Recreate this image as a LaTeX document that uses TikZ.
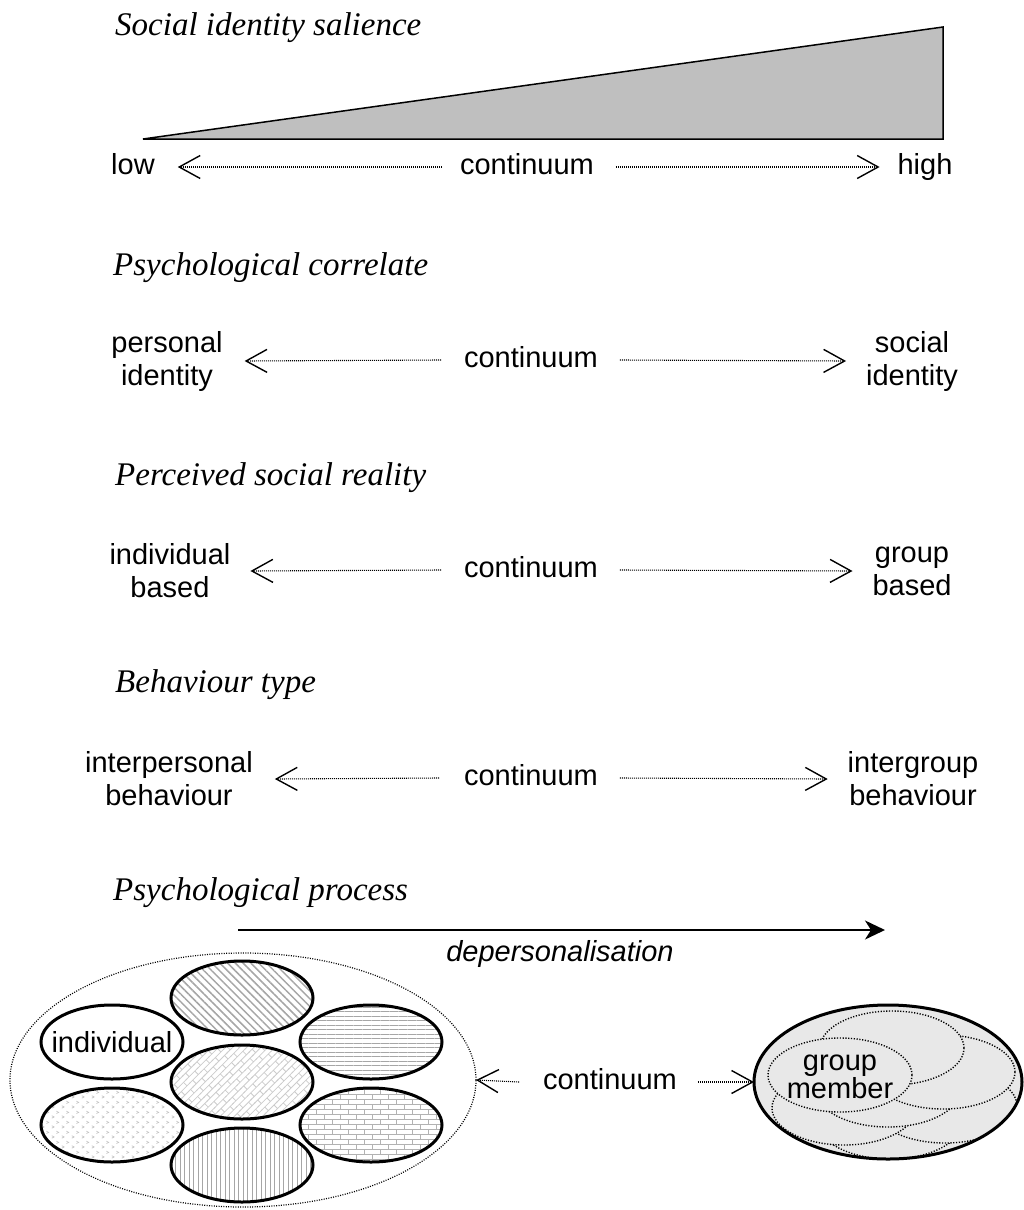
\documentclass[tikz,border=0pt]{standalone}
\usepackage{fontspec}
\setmainfont{Liberation Serif}
\newfontfamily\arial{Liberation Sans}
\usetikzlibrary{arrows.meta,patterns,patterns.meta,shapes.geometric}
\tikzdeclarepattern{
  name=mybricks, type=uncolored,
  bounding box={(-1pt,-1pt) and (17pt,11pt)},
  tile size={(16pt,10pt)},
  code={
    \draw[line width=0.9pt] (-1pt,0.5pt) -- (17pt,0.5pt) (-1pt,5.5pt) -- (17pt,5.5pt)
      (4pt,0.5pt) -- (4pt,5.5pt) (12pt,5.5pt) -- (12pt,10.5pt);
  }
}
\tikzdeclarepattern{
  name=mydiagbricks, type=uncolored,
  bounding box={(-1pt,-1pt) and (17pt,11pt)},
  tile size={(16pt,10pt)},
  tile transformation={rotate=45},
  code={
    \draw[line width=0.8pt] (-1pt,0.5pt) -- (17pt,0.5pt) (-1pt,5.5pt) -- (17pt,5.5pt)
      (4pt,0.5pt) -- (4pt,5.5pt) (12pt,5.5pt) -- (12pt,10.5pt);
  }
}
\tikzdeclarepattern{
  name=mychevrons, type=uncolored,
  bounding box={(0pt,0pt) and (10pt,10pt)},
  tile size={(10pt,10pt)},
  code={
    \draw[line width=0.7pt] (2pt,2pt) -- (4.5pt,3.3pt) -- (2pt,4.6pt)
      (7pt,7pt) -- (9.5pt,8.3pt) -- (7pt,9.6pt);
  }
}
\begin{document}
\begin{tikzpicture}[x=1pt,y=-1pt,
  title/.style={font=\fontsize{33}{38}\selectfont\itshape, anchor=base west, inner sep=0pt},
  lbl/.style={font=\arial\fontsize{29}{33}\selectfont, align=center, inner sep=0pt, outer sep=0pt},
  lblone/.style={lbl, text height=15pt, text depth=0pt},
  cont/.style={dash pattern=on 1pt off 1pt, line width=1.1pt,
    -{Straight Barb[length=21pt,width=23pt,line width=1.4pt]}},
  person/.style={ellipse, draw, line width=3pt, minimum width=142pt, minimum height=74pt, inner sep=0pt, outer sep=0pt},
  dotline/.style={dash pattern=on 1.2pt off 1.6pt, line width=1.4pt},
  pc/.style={pattern color=gray!70}
]
\useasboundingbox (0,0) rectangle (1023,1210);

% ---------- titles ----------
\node[title] (t1) at (115,35)  {Social identity salience};
\node[title] (t2) at (113,275) {Psychological correlate};
\node[title] (t3) at (115,485) {Perceived social reality};
\node[title] (t4) at (115,692) {Behaviour type};
\node[title] (t5) at (113,900) {Psychological process};

% ---------- salience wedge ----------
\coordinate (triL) at (143,139);
\coordinate (triT) at (943,27);
\coordinate (triB) at (943,139);
\draw[fill=gray!50, line width=1.5pt, line join=miter] (triL) -- (triT) -- (triB) -- cycle;

% ---------- row 1 ----------
\node[lblone] (low)   at (133,167) {low};
\node[lblone] (cA)    at (527,167) {continuum};
\node[lblone] (high)  at (925,167) {high};
\draw[cont] ([xshift=-18pt]cA.west) -- ([xshift=23pt]low.east);
\draw[cont] ([xshift=22pt]cA.east) -- ([xshift=-18pt]high.west);

% ---------- row 2 ----------
\node[lbl]    (pers)  at (167,361) {personal\\identity};
\node[lblone] (cB)    at (531,360) {continuum};
\node[lbl]    (soc)   at (912,361) {social\\identity};
\draw[cont] ([xshift=-23pt]cB.west) -- ([xshift=22pt]pers.east);
\draw[cont] ([xshift=22pt]cB.east) -- ([xshift=-20pt]soc.west);

% ---------- row 3 ----------
\node[lbl]    (indb)  at (170,571) {individual\\based};
\node[lblone] (cC)    at (531,570) {continuum};
\node[lbl]    (grpb)  at (912,571) {group\\based};
\draw[cont] ([xshift=-23pt]cC.west) -- ([xshift=20pt]indb.east);
\draw[cont] ([xshift=22pt]cC.east) -- ([xshift=-20pt]grpb.west);

% ---------- row 4 ----------
\node[lbl]    (inter) at (169,779) {interpersonal\\behaviour};
\node[lblone] (cD)    at (531,778) {continuum};
\node[lbl]    (intg)  at (913,779) {intergroup\\behaviour};
\draw[cont] ([xshift=-25pt]cD.west) -- ([xshift=22pt]inter.east);
\draw[cont] ([xshift=22pt]cD.east) -- ([xshift=-20pt]intg.west);

% ---------- depersonalisation ----------
\coordinate (dA) at (238,930);
\coordinate (dB) at (885,930);
\draw[line width=2pt, -{Stealth[length=20pt,width=19pt,inset=6pt]}] (dA) -- (dB);
\node[anchor=base, inner sep=0pt, font=\arial\itshape\fontsize{29}{33}\selectfont] (dep) at (560,961) {depersonalisation};

% ---------- crowd of individuals ----------
\node[ellipse, draw, dash pattern=on 1pt off 1.4pt, line width=1.2pt, minimum width=466pt, minimum height=254pt, inner sep=0pt, outer sep=0pt] (crowd) at (243,1080) {};
\node[person, pc, pattern={Lines[angle=-45,distance=5.5pt,line width=1.5pt]}] (p1) at (242,998) {};
\node[person] (p2) at (112,1042) {};
\node[lbl] (indl) at (p2) {individual};
\node[person, pc, pattern={Lines[angle=0,distance=4.5pt,line width=1pt]}] (p3) at (371,1042) {};
\node[person, pattern color=gray!40, pattern=mydiagbricks] (p4) at (242,1082) {};
\node[person, pattern color=gray!50, pattern=mychevrons] (p5) at (112,1125) {};
\node[person, pattern color=gray!60, pattern=mybricks] (p6) at (371,1125) {};
\node[person, pc, pattern={Lines[angle=90,distance=4.5pt,line width=1pt]}] (p7) at (242,1165) {};

% ---------- group ----------
\node[ellipse, fill=gray!18, minimum width=268pt, minimum height=154pt, inner sep=0pt, outer sep=0pt] (grp) at (888,1082) {};
\begin{scope}
  \clip (grp.center) ellipse [x radius=133, y radius=76];
  \foreach \dx/\dy in {2/40, 57/24, -44/26, 0/8, 55/-10, 4/-34, -48/-7}{
    \draw[dotline, fill=gray!18] ([xshift=\dx pt, yshift=-\dy pt]grp.center) ellipse [x radius=72, y radius=37];
  }
\end{scope}
\draw[line width=3pt] (grp.center) ellipse [x radius=134, y radius=77];
\node[lbl, font=\arial\fontsize{29}{27}\selectfont] (gm) at (840,1077) {group\\member};

% ---------- row 5 ----------
\node[lblone] (cE) at (610,1082) {continuum};
\draw[cont] ([xshift=-24pt]cE.west) -- (crowd.east);
\draw[cont] ([xshift=21pt]cE.east) -- (grp.west);
\end{tikzpicture}
\end{document}
